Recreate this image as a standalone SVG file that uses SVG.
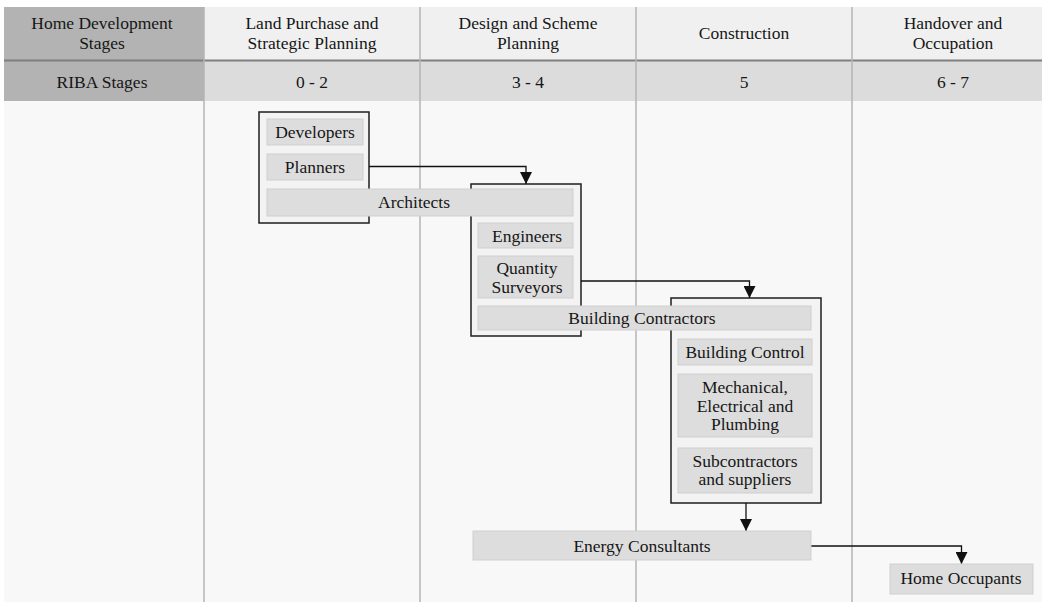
<svg xmlns="http://www.w3.org/2000/svg" width="1042" height="602" viewBox="0 0 1042 602" font-family="Liberation Serif, Times New Roman, serif" font-size="17.5">
  <style>
    text { fill: #161616; text-anchor: middle; }
    .hdr-key { fill: #b3b3b3; }
    .hdr-top { fill: #f0f0f0; }
    .hdr-mid { fill: #dcdcdc; }
    .grid { stroke: #b4b4b4; stroke-width: 1.5; }
    .group { fill: #f3f3f3; stroke: #1e1e1e; stroke-width: 1.5; }
    .bar { fill: #dddddd; stroke: #cfcfcf; stroke-width: 1; }
    .link { fill: none; stroke: #111; stroke-width: 1.3; }
  </style>
  <defs>
    <marker id="arrow" viewBox="0 0 10 10" refX="10" refY="5" markerWidth="12" markerHeight="12" markerUnits="userSpaceOnUse" orient="auto">
      <path d="M0,0 L10,5 L0,10 Z" fill="#111"/>
    </marker>
  </defs>

  <!-- page -->
  <rect x="0" y="0" width="1042" height="602" fill="#ffffff"/>
  <rect x="4" y="101" width="1038" height="501" fill="#f8f8f8"/>

  <!-- header table -->
  <g id="header">
    <rect class="hdr-key" x="4" y="7" width="200" height="94"/>
    <rect class="hdr-top" x="204" y="7" width="838" height="53"/>
    <rect class="hdr-mid" x="204" y="61" width="838" height="40"/>
    <line x1="4" y1="60.5" x2="1042" y2="60.5" stroke="#7f7f7f" stroke-width="2"/>
    <text x="102" y="29">Home Development</text>
    <text x="102" y="49">Stages</text>
    <text x="312" y="29">Land Purchase and</text>
    <text x="312" y="49">Strategic Planning</text>
    <text x="528" y="29">Design and Scheme</text>
    <text x="528" y="49">Planning</text>
    <text x="744" y="39">Construction</text>
    <text x="953" y="29">Handover and</text>
    <text x="953" y="49">Occupation</text>
    <text x="102" y="88">RIBA Stages</text>
    <text x="312" y="88">0 - 2</text>
    <text x="528" y="88">3 - 4</text>
    <text x="744" y="88">5</text>
    <text x="953" y="88">6 - 7</text>
  </g>

  <!-- stage column dividers -->
  <g id="columns">
    <line class="grid" x1="204" y1="7" x2="204" y2="602"/>
    <line class="grid" x1="420" y1="7" x2="420" y2="602"/>
    <line class="grid" x1="636" y1="7" x2="636" y2="602"/>
    <line class="grid" x1="852" y1="7" x2="852" y2="602"/>
  </g>

  <!-- stage groups (frames) -->
  <g id="group-planning">
    <rect class="group" x="259" y="112" width="110" height="111"/>
  </g>
  <g id="group-design">
    <rect class="group" x="471" y="184" width="110" height="152"/>
  </g>
  <g id="group-construction">
    <rect class="group" x="671" y="298" width="150" height="205"/>
  </g>

  <!-- connectors -->
  <g id="connectors">
    <path class="link" d="M369,166.5 H526 V184" marker-end="url(#arrow)"/>
    <path class="link" d="M581,281 H749.5 V298" marker-end="url(#arrow)"/>
    <path class="link" d="M746,503 V531" marker-end="url(#arrow)"/>
    <path class="link" d="M811,546 H961.5 V564" marker-end="url(#arrow)"/>
  </g>

  <!-- participants -->
  <g id="developers">
    <rect class="bar" x="267" y="119" width="96" height="26"/>
    <text x="315" y="138">Developers</text>
  </g>
  <g id="planners">
    <rect class="bar" x="267" y="154" width="96" height="26"/>
    <text x="315" y="173">Planners</text>
  </g>
  <g id="architects">
    <rect class="bar" x="267" y="189" width="306" height="27"/>
    <text x="414" y="208">Architects</text>
  </g>
  <g id="engineers">
    <rect class="bar" x="478" y="223" width="95" height="25"/>
    <text x="527" y="242">Engineers</text>
  </g>
  <g id="quantity-surveyors">
    <rect class="bar" x="478" y="256" width="95" height="42"/>
    <text x="527" y="274">Quantity</text>
    <text x="527" y="293">Surveyors</text>
  </g>
  <g id="building-contractors">
    <rect class="bar" x="478" y="306" width="333" height="24"/>
    <text x="642" y="324">Building Contractors</text>
  </g>
  <g id="building-control">
    <rect class="bar" x="678" y="339" width="134" height="26"/>
    <text x="745" y="358">Building Control</text>
  </g>
  <g id="mep">
    <rect class="bar" x="678" y="374" width="134" height="63"/>
    <text x="745" y="393">Mechanical,</text>
    <text x="745" y="412">Electrical and</text>
    <text x="745" y="430">Plumbing</text>
  </g>
  <g id="subcontractors">
    <rect class="bar" x="678" y="448" width="134" height="45"/>
    <text x="745" y="467">Subcontractors</text>
    <text x="745" y="485">and suppliers</text>
  </g>
  <g id="energy-consultants">
    <rect class="bar" x="473" y="531" width="338" height="29"/>
    <text x="642" y="552">Energy Consultants</text>
  </g>
  <g id="home-occupants">
    <rect class="bar" x="890" y="564" width="143" height="30"/>
    <text x="961" y="584">Home Occupants</text>
  </g>
</svg>
